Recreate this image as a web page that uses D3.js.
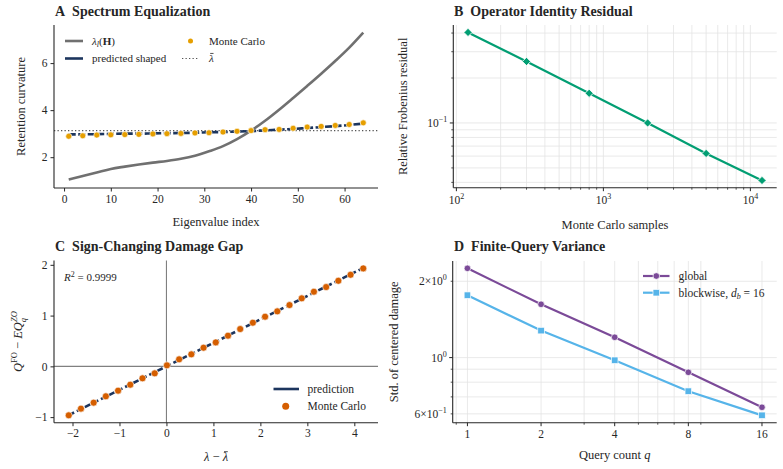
<!DOCTYPE html>
<html><head><meta charset="utf-8">
<script src="https://cdn.jsdelivr.net/npm/d3@7"></script>
<style>
body{margin:0;background:#fff;}
svg, text, tspan{font-family:"Liberation Serif","DejaVu Serif",serif;}
</style></head>
<body>
<script>
// ---------- DATA ----------
// Panel A
const specIdx = [1,4,7,10,13,16,19,22,25,28,31,34,37,40,43,46,49,52,55,58,61,64];
const specLambda = [1.05,1.20,1.35,1.50,1.60,1.69,1.77,1.84,1.93,2.06,2.25,2.47,2.77,3.13,3.55,4.02,4.52,5.03,5.55,6.09,6.66,7.30];
const predShaped = [2.97,2.97,2.98,2.99,3.00,3.00,3.01,3.02,3.03,3.04,3.06,3.07,3.09,3.11,3.14,3.17,3.20,3.24,3.28,3.32,3.37,3.43];
const mcShaped = [2.89,2.91,2.94,2.95,2.96,2.97,2.99,3.00,3.01,3.03,3.04,3.07,3.10,3.13,3.17,3.18,3.23,3.28,3.31,3.35,3.39,3.46];
const lambdaBar = 3.13;
const aXTicks = [0,10,20,30,40,50,60];
const aYTicks = [2,4,6];
// Panel B
const mcSamples = [120,300,800,2000,5000,12000];
const frobResidual = [0.404,0.258,0.158,0.100,0.0625,0.0412];
// Panel C
const gapX = [-2.08,-1.82,-1.55,-1.29,-1.03,-0.77,-0.51,-0.25,0.01,0.27,0.53,0.79,1.05,1.31,1.57,1.84,2.10,2.36,2.62,2.88,3.14,3.40,3.66,3.92,4.19];
const gapMC = [-0.965,-0.833,-0.715,-0.59,-0.479,-0.361,-0.236,-0.138,0.02,0.138,0.236,0.367,0.472,0.604,0.735,0.86,0.978,1.083,1.207,1.339,1.47,1.562,1.686,1.804,1.929];
const predX = [-2.08,4.19];
const predY = [-0.962,1.938];
const r2Text = "0.9999";
const cXTicks = [-2,-1,0,1,2,3,4];
const cYTicks = [-1,0,1,2];
// Panel D
const queryQ = [1,2,4,8,16];
const stdGlobal = [2.25,1.623,1.203,0.875,0.637];
const stdBlock = [1.762,1.278,0.976,0.737,0.592];

// ---------- STYLE ----------
const W=783,H=469;
const svg=d3.select("body").append("svg").attr("width",W).attr("height",H);
const ink="#262626", gridC="#e3e3e3";
const tickFont=11.5, labFont=12.5, titleFont=14, legFont=11;
const minus=d=>d<0?"−"+Math.abs(d):String(d);

function spines(g,x0,x1,y0,y1){
  g.append("line").attr("x1",x0).attr("x2",x0).attr("y1",y0).attr("y2",y1).attr("stroke",ink).attr("stroke-width",1.1);
  g.append("line").attr("x1",x0).attr("x2",x1).attr("y1",y1).attr("y2",y1).attr("stroke",ink).attr("stroke-width",1.1);
}
function styleAxis(a){
  a.attr("font-family",null).attr("font-size",null);
  a.select(".domain").remove();
  a.selectAll(".tick line").attr("stroke",ink).attr("stroke-width",1);
  a.selectAll(".tick text").attr("fill",ink).attr("font-size",tickFont);
}
function title(x,y,letter,t){
  svg.append("text").attr("x",x).attr("y",y).attr("font-size",titleFont).attr("font-weight","bold").attr("fill",ink)
    .text(letter+"\u2002"+t);
}
function xlabel(x,y,t){ return svg.append("text").attr("x",x).attr("y",y).attr("text-anchor","middle").attr("font-size",labFont).attr("fill",ink).text(t);}
function ylabel(x,y,t){ return svg.append("text").attr("transform",`translate(${x},${y}) rotate(-90)`).attr("text-anchor","middle").attr("font-size",labFont).attr("fill",ink).text(t);}
// draw a bar over character idx of a (non-rotated) text element
function overbar(textSel,idx,parent){
  const e=textSel.node().getExtentOfChar(idx);
  (parent||svg).append("line").attr("x1",e.x+e.width*0.25).attr("x2",e.x+e.width*0.95)
    .attr("y1",e.y+e.height*0.12).attr("y2",e.y+e.height*0.12).attr("stroke",ink).attr("stroke-width",0.8);
}

// ---------- PANEL A ----------
{
  const L=54,R=378,T=25,B=188;
  const x=d3.scaleLinear().domain([-2.15,67.15]).range([L,R]);
  const y=d3.scaleLinear().domain([0.69,7.62]).range([B,T]);
  const g=svg.append("g");
  const line=d3.line().x((d,i)=>x(specIdx[i])).y(d=>y(d)).curve(d3.curveMonotoneX);
  g.append("line").attr("x1",L).attr("x2",R).attr("y1",y(lambdaBar)).attr("y2",y(lambdaBar))
    .attr("stroke","#555").attr("stroke-width",1.2).attr("stroke-dasharray","1.3,2.2");
  g.append("path").attr("d",line(specLambda)).attr("fill","none").attr("stroke","#707070").attr("stroke-width",2.6);
  g.append("path").attr("d",line(predShaped)).attr("fill","none").attr("stroke","#1c355e").attr("stroke-width",2.6).attr("stroke-dasharray","7,2.5");
  g.selectAll("circle.mc").data(mcShaped).enter().append("circle")
    .attr("cx",(d,i)=>x(specIdx[i])).attr("cy",d=>y(d)).attr("r",3).attr("fill","#E69F00").attr("stroke","#fff").attr("stroke-width",0.6);
  spines(g,L,R,T,B);
  styleAxis(svg.append("g").attr("transform",`translate(0,${B})`).call(d3.axisBottom(x).tickValues(aXTicks).tickSize(3.5).tickPadding(3).tickFormat(d3.format("d"))));
  styleAxis(svg.append("g").attr("transform",`translate(${L},0)`).call(d3.axisLeft(y).tickValues(aYTicks).tickSize(3.5).tickPadding(3).tickFormat(d3.format("d"))));
  title(55,16,"A","Spectrum Equalization");
  xlabel((L+R)/2,226,"Eigenvalue index");
  ylabel(25,(T+B)/2,"Retention curvature");
  // legend
  const lg=svg.append("g").attr("font-size",legFont).attr("fill",ink);
  lg.append("line").attr("x1",65).attr("x2",83).attr("y1",41).attr("y2",41).attr("stroke","#707070").attr("stroke-width",2.6);
  const t1=lg.append("text").attr("x",92).attr("y",44.5);
  t1.append("tspan").attr("font-style","italic").text("λ");
  t1.append("tspan").attr("font-style","italic").attr("font-size",8).attr("dy",2).text("l");
  t1.append("tspan").attr("dy",-2).text("(");
  t1.append("tspan").attr("font-weight","bold").text("H");
  t1.append("tspan").text(")");
  lg.append("line").attr("x1",65).attr("x2",83).attr("y1",58.5).attr("y2",58.5).attr("stroke","#1c355e").attr("stroke-width",2.6);
  lg.append("text").attr("x",92).attr("y",62).text("predicted shaped");
  lg.append("circle").attr("cx",190.5).attr("cy",41).attr("r",2.5).attr("fill","#E69F00");
  lg.append("text").attr("x",209).attr("y",44.5).text("Monte Carlo");
  lg.append("line").attr("x1",182).attr("x2",199).attr("y1",58.5).attr("y2",58.5).attr("stroke","#555").attr("stroke-width",1.2).attr("stroke-dasharray","1.3,2.2");
  const lb=lg.append("text").attr("x",209).attr("y",62).attr("font-style","italic").text("λ");
  overbar(lb,0,lg);
}

// ---------- PANEL B ----------
{
  const L=453.3,R=776.7,T=25,B=187.7;
  const x=d3.scaleLog().domain([Math.pow(10,1.979),Math.pow(10,4.179)]).range([L,R]);
  const y=d3.scaleLog().domain([Math.pow(10,-1.4335),Math.pow(10,-0.344)]).range([B,T]);
  const g=svg.append("g");
  const xMinor=[], yMinor=[];
  [100,1000,10000].forEach(d=>{for(let k=1;k<10;k++){const v=d*k; if(v>=x.domain()[0]&&v<=x.domain()[1]) xMinor.push(v);}});
  [0.01,0.1].forEach(d=>{for(let k=1;k<10;k++){const v=d*k; if(v>=y.domain()[0]&&v<=y.domain()[1]) yMinor.push(v);}});
  g.selectAll("line.gx").data(xMinor).enter().append("line").attr("x1",d=>x(d)).attr("x2",d=>x(d)).attr("y1",T).attr("y2",B).attr("stroke",gridC).attr("stroke-width",0.8);
  g.selectAll("line.gy").data(yMinor).enter().append("line").attr("y1",d=>y(d)).attr("y2",d=>y(d)).attr("x1",L).attr("x2",R).attr("stroke",gridC).attr("stroke-width",0.8);
  const line=d3.line().x((d,i)=>x(mcSamples[i])).y(d=>y(d));
  g.append("path").attr("d",line(frobResidual)).attr("fill","none").attr("stroke","#029E73").attr("stroke-width",2.2);
  g.selectAll("path.dm").data(frobResidual).enter().append("path")
    .attr("d",d3.symbol().type(d3.symbolSquare).size(34))
    .attr("transform",(d,i)=>`translate(${x(mcSamples[i])},${y(d)}) rotate(45)`)
    .attr("fill","#029E73").attr("stroke","#fff").attr("stroke-width",0.8);
  spines(g,L,R,T,B);
  // ticks
  const ax=svg.append("g");
  const maj=[100,1000,10000];
  xMinor.forEach(v=>{const isMaj=maj.includes(v); ax.append("line").attr("x1",x(v)).attr("x2",x(v)).attr("y1",B).attr("y2",B+(isMaj?3.5:2)).attr("stroke",ink).attr("stroke-width",isMaj?1:0.8);});
  maj.forEach((v,i)=>{const t=ax.append("text").attr("x",x(v)).attr("y",B+16).attr("text-anchor","middle").attr("font-size",tickFont).attr("fill",ink);
    t.append("tspan").text("10"); t.append("tspan").attr("dy",-5).attr("font-size",8).text(String(i+2));});
  yMinor.forEach(v=>{const isMaj=Math.abs(v-0.1)<1e-9; ax.append("line").attr("x1",L).attr("x2",L-(isMaj?3.5:2)).attr("y1",y(v)).attr("y2",y(v)).attr("stroke",ink).attr("stroke-width",isMaj?1:0.8);});
  {const t=ax.append("text").attr("x",L-6).attr("y",y(0.1)+4).attr("text-anchor","end").attr("font-size",tickFont).attr("fill",ink);
   t.append("tspan").text("10"); t.append("tspan").attr("dy",-5).attr("font-size",8).text("−1");}
  title(454,16,"B","Operator Identity Residual");
  xlabel((L+R)/2,229,"Monte Carlo samples");
  ylabel(407,(T+B)/2,"Relative Frobenius residual");
}

// ---------- PANEL C ----------
{
  const L=54,R=378,T=260.5,B=422.7;
  const x=d3.scaleLinear().domain([-2.394,4.504]).range([L,R]);
  const y=d3.scaleLinear().domain([-1.11,2.085]).range([B,T]);
  const g=svg.append("g");
  g.append("line").attr("x1",L).attr("x2",R).attr("y1",y(0)).attr("y2",y(0)).attr("stroke","#808080").attr("stroke-width",1.1);
  g.append("line").attr("x1",x(0)).attr("x2",x(0)).attr("y1",T).attr("y2",B).attr("stroke","#808080").attr("stroke-width",1.1);
  const line=d3.line().x((d,i)=>x(predX[i])).y(d=>y(d));
  g.append("path").attr("d",line(predY)).attr("fill","none").attr("stroke","#1c355e").attr("stroke-width",2.6).attr("stroke-dasharray","6,3");
  g.selectAll("circle.mc").data(gapMC).enter().append("circle")
    .attr("cx",(d,i)=>x(gapX[i])).attr("cy",d=>y(d)).attr("r",3.5).attr("fill","#D55E00").attr("stroke","#fff").attr("stroke-width",0.6);
  spines(g,L,R,T,B);
  styleAxis(svg.append("g").attr("transform",`translate(0,${B})`).call(d3.axisBottom(x).tickValues(cXTicks).tickSize(3.5).tickPadding(3).tickFormat(minus)));
  styleAxis(svg.append("g").attr("transform",`translate(${L},0)`).call(d3.axisLeft(y).tickValues(cYTicks).tickSize(3.5).tickPadding(3).tickFormat(minus)));
  title(55,251,"C","Sign-Changing Damage Gap");
  const xl=svg.append("text").attr("x",(L+R)/2).attr("y",461).attr("text-anchor","middle").attr("font-size",labFont).attr("fill",ink);
  xl.append("tspan").attr("font-style","italic").text("λ");
  xl.append("tspan").text(" − ");
  xl.append("tspan").attr("font-style","italic").text("λ");
  overbar(xl,4);
  const yl=svg.append("text").attr("transform",`translate(22,${(T+B)/2}) rotate(-90)`).attr("text-anchor","middle").attr("font-size",labFont).attr("fill",ink);
  yl.append("tspan").attr("font-style","italic").text("Q");
  yl.append("tspan").attr("font-size",8.5).attr("dy",-5).text("FO");
  yl.append("tspan").attr("dy",5).text(" − ");
  yl.append("tspan").attr("font-style","italic").text("EQ");
  yl.append("tspan").attr("font-size",8.5).attr("font-style","italic").attr("dy",-5).text("ZO");
  yl.append("tspan").attr("font-size",8.5).attr("font-style","italic").attr("dx",-11).attr("dy",9).text("q");
  const rt=svg.append("text").attr("x",64).attr("y",281).attr("font-size",11).attr("fill",ink);
  rt.append("tspan").attr("font-style","italic").text("R");
  rt.append("tspan").attr("font-size",8).attr("dy",-4).text("2");
  rt.append("tspan").attr("dy",4).text(" = "+r2Text);
  const lg=svg.append("g").attr("font-size",legFont+0.5).attr("fill",ink);
  lg.append("line").attr("x1",273.5).attr("x2",299).attr("y1",389).attr("y2",389).attr("stroke","#1c355e").attr("stroke-width",2.6);
  lg.append("text").attr("x",307.5).attr("y",392.5).text("prediction");
  lg.append("circle").attr("cx",285.7).attr("cy",406.3).attr("r",3.5).attr("fill","#D55E00");
  lg.append("text").attr("x",307.5).attr("y",410).text("Monte Carlo");
}

// ---------- PANEL D ----------
{
  const L=452.7,R=776.7,T=261,B=422.7;
  const x=d3.scaleLog().base(2).domain([Math.pow(2,-0.2),Math.pow(2,4.2)]).range([L,R]);
  const y=d3.scaleLog().domain([Math.pow(10,-0.2567),Math.pow(10,0.381)]).range([B,T]);
  const g=svg.append("g");
  const xMinor=[0.9,3,5,6,7,9];
  const xMajor=queryQ;
  const yMinor=[0.6,0.7,0.8,0.9,2];
  [...xMajor,...xMinor].forEach(v=>g.append("line").attr("x1",x(v)).attr("x2",x(v)).attr("y1",T).attr("y2",B).attr("stroke",gridC).attr("stroke-width",0.8));
  [1,...yMinor].forEach(v=>g.append("line").attr("y1",y(v)).attr("y2",y(v)).attr("x1",L).attr("x2",R).attr("stroke",gridC).attr("stroke-width",0.8));
  const line=d3.line().x((d,i)=>x(queryQ[i])).y(d=>y(d));
  g.append("path").attr("d",line(stdGlobal)).attr("fill","none").attr("stroke","#7B4A98").attr("stroke-width",2.2);
  g.append("path").attr("d",line(stdBlock)).attr("fill","none").attr("stroke","#56B4E9").attr("stroke-width",2.2);
  g.selectAll("circle.gl").data(stdGlobal).enter().append("circle").attr("cx",(d,i)=>x(queryQ[i])).attr("cy",d=>y(d)).attr("r",3.3)
    .attr("fill","#7B4A98").attr("stroke","#fff").attr("stroke-width",0.7);
  g.selectAll("rect.bl").data(stdBlock).enter().append("rect").attr("x",(d,i)=>x(queryQ[i])-3.3).attr("y",d=>y(d)-3.3).attr("width",6.6).attr("height",6.6)
    .attr("fill","#56B4E9").attr("stroke","#fff").attr("stroke-width",0.7);
  spines(g,L,R,T,B);
  const ax=svg.append("g");
  xMajor.forEach(v=>{ax.append("line").attr("x1",x(v)).attr("x2",x(v)).attr("y1",B).attr("y2",B+3.5).attr("stroke",ink);
    ax.append("text").attr("x",x(v)).attr("y",B+15.5).attr("text-anchor","middle").attr("font-size",tickFont).attr("fill",ink).text(v);});
  xMinor.forEach(v=>ax.append("line").attr("x1",x(v)).attr("x2",x(v)).attr("y1",B).attr("y2",B+2).attr("stroke",ink).attr("stroke-width",0.8));
  ax.append("line").attr("x1",L).attr("x2",L-3.5).attr("y1",y(1)).attr("y2",y(1)).attr("stroke",ink);
  yMinor.forEach(v=>ax.append("line").attr("x1",L).attr("x2",L-2).attr("y1",y(v)).attr("y2",y(v)).attr("stroke",ink).attr("stroke-width",0.8));
  const yLab=[[2,"2×10","0"],[1,"10","0"],[0.6,"6×10","−1"]];
  yLab.forEach(([v,a,e])=>{const t=ax.append("text").attr("x",L-6).attr("y",y(v)+4).attr("text-anchor","end").attr("font-size",tickFont).attr("fill",ink);
    t.append("tspan").text(a); t.append("tspan").attr("dy",-5).attr("font-size",8).text(e);});
  title(454,251,"D","Finite-Query Variance");
  const xl=svg.append("text").attr("x",(L+R)/2).attr("y",459).attr("text-anchor","middle").attr("font-size",labFont).attr("fill",ink);
  xl.append("tspan").text("Query count ");
  xl.append("tspan").attr("font-style","italic").text("q");
  ylabel(398,(T+B)/2,"Std. of centered damage");
  const lg=svg.append("g").attr("font-size",legFont+0.5).attr("fill",ink);
  lg.append("line").attr("x1",643).attr("x2",669.5).attr("y1",276).attr("y2",276).attr("stroke","#7B4A98").attr("stroke-width",2.2);
  lg.append("circle").attr("cx",656.3).attr("cy",276).attr("r",3.3).attr("fill","#7B4A98").attr("stroke","#fff").attr("stroke-width",0.7);
  lg.append("text").attr("x",678.5).attr("y",280).text("global");
  lg.append("line").attr("x1",643).attr("x2",669.5).attr("y1",292.7).attr("y2",292.7).attr("stroke","#56B4E9").attr("stroke-width",2.2);
  lg.append("rect").attr("x",653).attr("y",289.4).attr("width",6.6).attr("height",6.6).attr("fill","#56B4E9").attr("stroke","#fff").attr("stroke-width",0.7);
  const t=lg.append("text").attr("x",678.5).attr("y",296.5);
  t.append("tspan").text("blockwise, ");
  t.append("tspan").attr("font-style","italic").text("d");
  t.append("tspan").attr("font-style","italic").attr("font-size",8).attr("dy",2.5).text("b");
  t.append("tspan").attr("dy",-2.5).text(" = 16");
}
</script>
</body></html>
